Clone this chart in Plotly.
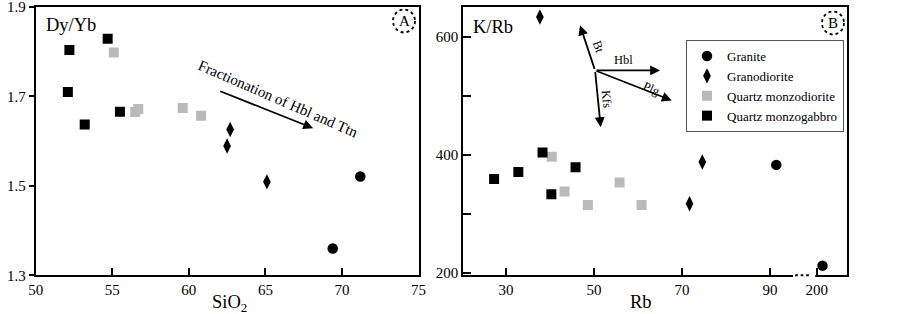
import plotly.graph_objects as go

FONT = "Liberation Serif"
W, H = 902, 314

# ---------------- data: panel A (SiO2 vs Dy/Yb) ----------------
granite_sio2 = [71.2, 69.4]
granite_dyyb = [1.521, 1.360]
grano_sio2 = [62.7, 62.5, 65.1]
grano_dyyb = [1.626, 1.589, 1.509]
qmd_sio2 = [55.1, 56.5, 56.7, 59.6, 60.8]
qmd_dyyb = [1.798, 1.665, 1.672, 1.674, 1.657]
qmg_sio2 = [52.2, 54.7, 52.1, 55.5, 53.2]
qmg_dyyb = [1.804, 1.829, 1.710, 1.666, 1.637]

# ---------------- data: panel B (Rb vs K/Rb) ----------------
granite_rb = [91.4, 201.3]
granite_krb = [383, 212]
grano_rb = [37.7, 74.6, 71.7]
grano_krb = [634, 388, 317]
qmd_rb = [40.4, 43.3, 48.6, 55.8, 60.8]
qmd_krb = [397, 338, 315, 353, 315]
qmg_rb = [38.3, 27.3, 32.8, 45.8, 40.3]
qmg_krb = [404, 359, 371, 379, 333]

# ticks
a_xticks = [50, 55, 60, 65, 70, 75]
a_yticks = [1.3, 1.5, 1.7, 1.9]
b_xtick_vals = [30, 50, 70, 90, 200]
b_yticks = [200, 400, 600]
b_yminor = [300, 500]

# broken Rb axis: values above the break are shifted left
BREAK_AT = 150
BREAK_SHIFT = 99.4


def rb_pos(v):
    return v - BREAK_SHIFT if v > BREAK_AT else v


# vector annotations (tail -> head)
a_arrow_tail = (61.96, 1.713)
a_arrow_head = (68.12, 1.629)
b_vec_origin = (50.23, 543.4)
b_vec_names = ["Bt", "Hbl", "Plg", "Kfs"]
b_vec_heads = [(46.82, 619.9), (65.0, 543.4), (67.66, 492.4), (51.52, 447.0)]
b_vec_label_pos = [(50.98, 583.0), (56.66, 560.4), (63.1, 512.3), (52.89, 495.3)]
b_vec_label_angle = [70, 0, 25, 85]

GREY = "#b9babc"
styles = {
    "Granite": dict(symbol="circle", size=10.5, color="black"),
    "Granodiorite": dict(symbol="diamond-tall", size=11, color="black"),
    "Quartz monzodiorite": dict(symbol="square", size=10, color=GREY),
    "Quartz monzogabbro": dict(symbol="square", size=10, color="black"),
}

fig = go.Figure()

groups_a = [
    ("Granite", granite_sio2, granite_dyyb),
    ("Granodiorite", grano_sio2, grano_dyyb),
    ("Quartz monzodiorite", qmd_sio2, qmd_dyyb),
    ("Quartz monzogabbro", qmg_sio2, qmg_dyyb),
]
groups_b = [
    ("Granite", granite_rb, granite_krb),
    ("Granodiorite", grano_rb, grano_krb),
    ("Quartz monzodiorite", qmd_rb, qmd_krb),
    ("Quartz monzogabbro", qmg_rb, qmg_krb),
]

for name, xs, ys in groups_a:
    s = styles[name]
    fig.add_trace(go.Scatter(
        x=xs, y=ys, mode="markers", name=name, showlegend=False,
        marker=dict(symbol=s["symbol"], size=s["size"], color=s["color"], line=dict(width=0)),
        xaxis="x", yaxis="y"))

for name, xs, ys in groups_b:
    s = styles[name]
    fig.add_trace(go.Scatter(
        x=[rb_pos(v) for v in xs], y=ys, mode="markers", name=name, showlegend=True,
        marker=dict(symbol=s["symbol"], size=s["size"], color=s["color"], line=dict(width=0)),
        xaxis="x2", yaxis="y2"))


def px_x(p):
    return p / W


def px_y(p):
    return 1 - p / H


ydom = [px_y(275.3), px_y(7)]
axis_common = dict(showline=True, mirror=True, linecolor="black", linewidth=2,
                   showgrid=False, zeroline=False, ticks="inside", ticklen=7,
                   tickwidth=1.5, tickcolor="black", automargin=False,
                   ticklabeloverflow="allow",
                   tickfont=dict(family=FONT, size=15, color="black"))

fig.update_layout(
    width=W, height=H,
    margin=dict(l=0, r=0, t=0, b=0, autoexpand=False),
    paper_bgcolor="white", plot_bgcolor="white",
    font=dict(family=FONT, color="black"),
    xaxis=dict(domain=[px_x(35.7), px_x(418.5)], range=[50, 75],
               tickvals=a_xticks, anchor="y", **axis_common),
    yaxis=dict(domain=ydom, range=[1.3, 1.9], tickvals=a_yticks, anchor="x",
               tickformat=".1f",
               **{**axis_common, "ticks": "outside", "ticklen": 5}),
    xaxis2=dict(domain=[px_x(463.3), px_x(846.7)], range=[20.3, 107.4],
                tickvals=[rb_pos(v) for v in b_xtick_vals],
                ticktext=[str(v) for v in b_xtick_vals], anchor="y2",
                **axis_common),
    yaxis2=dict(domain=ydom, range=[195.6, 651], tickvals=b_yticks, anchor="x2",
                minor=dict(tickvals=b_yminor, ticks="inside", ticklen=8, tickwidth=1.5,
                           tickcolor="black", showgrid=False),
                **{**axis_common, "ticklen": 8}),
    legend=dict(x=px_x(686), y=px_y(40), xanchor="left", yanchor="top",
                bgcolor="white", bordercolor="#555", borderwidth=1,
                font=dict(family=FONT, size=13, color="black"),
                itemwidth=30, tracegroupgap=0),
)

annotations = []
# axis titles
annotations.append(dict(text="SiO<sub>2</sub>", x=px_x(229), y=px_y(303), xref="paper", yref="paper",
                        xanchor="center", yanchor="middle", showarrow=False,
                        font=dict(family=FONT, size=18.5)))
annotations.append(dict(text="Rb", x=px_x(641), y=px_y(302), xref="paper", yref="paper",
                        xanchor="center", yanchor="middle", showarrow=False,
                        font=dict(family=FONT, size=18.5)))
# panel labels
annotations.append(dict(text="Dy/Yb", x=px_x(44), y=px_y(25), xref="paper", yref="paper",
                        xanchor="left", yanchor="middle", showarrow=False,
                        font=dict(family=FONT, size=18.5)))
annotations.append(dict(text="K/Rb", x=px_x(471), y=px_y(26.5), xref="paper", yref="paper",
                        xanchor="left", yanchor="middle", showarrow=False,
                        font=dict(family=FONT, size=18.5)))
# circled letters
for letter, cx, cy in [("A", 404, 21), ("B", 833, 23)]:
    annotations.append(dict(text=letter, x=px_x(cx), y=px_y(cy), xref="paper", yref="paper",
                            xanchor="center", yanchor="middle", showarrow=False,
                            font=dict(family=FONT, size=15)))
    fig.add_shape(type="circle", xref="paper", yref="paper",
                  x0=px_x(cx - 11), x1=px_x(cx + 11), y0=px_y(cy + 11.5), y1=px_y(cy - 11.5),
                  line=dict(color="black", width=1.8, dash="dot"))

# panel A arrow + text
annotations.append(dict(x=a_arrow_head[0], y=a_arrow_head[1], ax=a_arrow_tail[0], ay=a_arrow_tail[1],
                        xref="x", yref="y", axref="x", ayref="y", showarrow=True, text="",
                        arrowhead=2, arrowsize=1.1, arrowwidth=1.8, arrowcolor="black"))
annotations.append(dict(text="Fractionation of Hbl and Ttn", x=65.85, y=1.695, xref="x", yref="y",
                        showarrow=False, textangle=23.5, font=dict(family=FONT, size=15)))

# panel B vectors
for name, head, lab, ang in zip(b_vec_names, b_vec_heads, b_vec_label_pos, b_vec_label_angle):
    annotations.append(dict(x=head[0], y=head[1], ax=b_vec_origin[0], ay=b_vec_origin[1],
                            xref="x2", yref="y2", axref="x2", ayref="y2", showarrow=True, text="",
                            arrowhead=2, arrowsize=1.1, arrowwidth=1.8, arrowcolor="black"))
    annotations.append(dict(text=name, x=lab[0], y=lab[1], xref="x2", yref="y2", showarrow=False,
                            textangle=ang, font=dict(family=FONT, size=12.5)))

fig.update_layout(annotations=annotations)

# axis break on Rb axis: blank the segment and draw dots
fig.add_shape(type="rect", xref="x2", yref="y2 domain", x0=95.2, x1=100.25, y0=-0.012, y1=0.012,
              fillcolor="white", line=dict(width=0), layer="above")
for d in [96.0, 97.25, 98.5]:
    fig.add_shape(type="line", xref="x2", yref="y2 domain", x0=d - 0.3, x1=d + 0.3, y0=0, y1=0,
                  line=dict(color="black", width=2), layer="above")

# the browser's default 8px page margin would shift the whole figure
fig.write_html("out.html", config={"displayModeBar": False},
               post_script="document.body.style.margin='0';")
